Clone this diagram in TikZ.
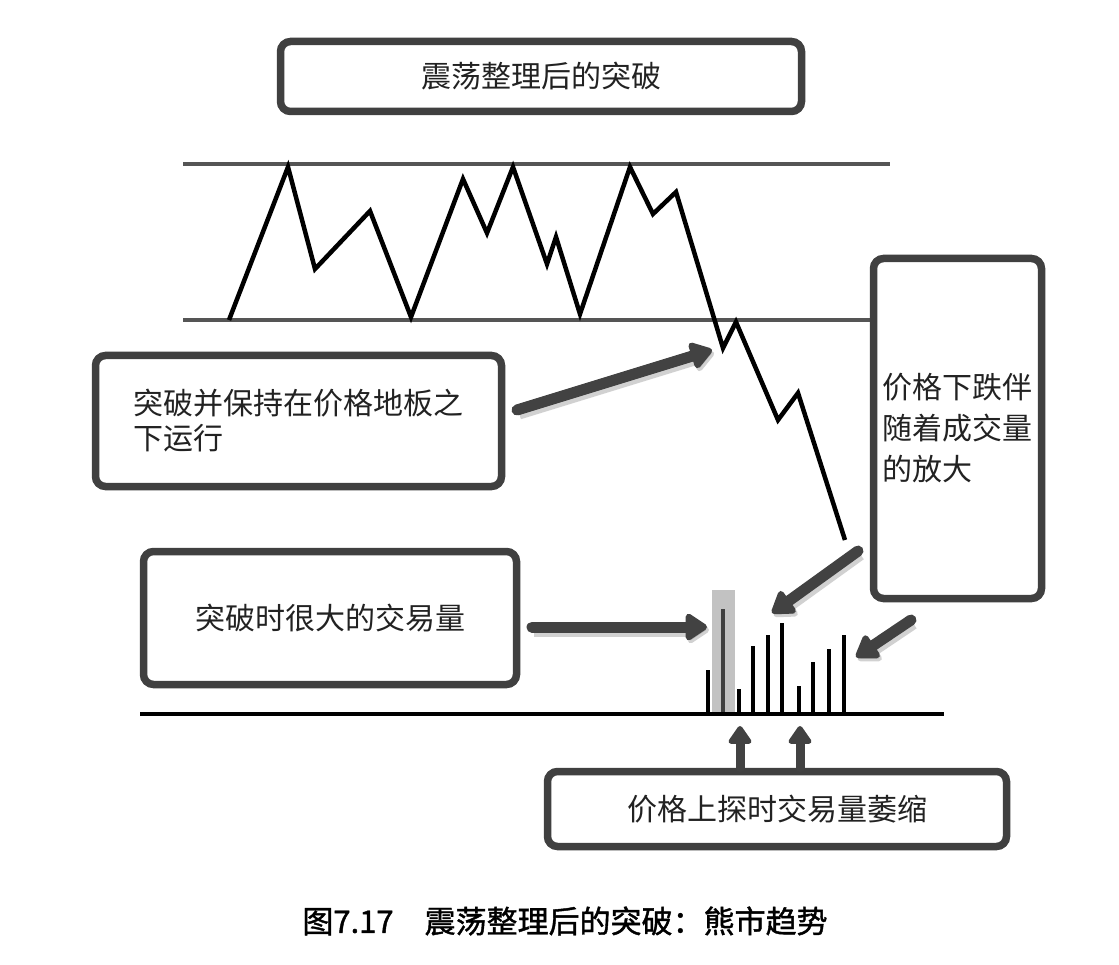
\documentclass[tikz,border=0pt]{standalone}
\usepackage{fontspec}
\setmainfont{Noto Sans CJK SC}
\newfontfamily\capfont{Noto Sans CJK SC}[FakeBold=1.3]
\usetikzlibrary{arrows.meta,shadows}
\definecolor{boxgray}{HTML}{404040}
\definecolor{arrgray}{HTML}{424242}
\definecolor{linegray}{HTML}{555555}
\definecolor{hlgray}{HTML}{C2C2C2}
\definecolor{txt}{HTML}{222222}
\begin{document}
\begin{tikzpicture}[x=1pt,y=-1pt,
  box/.style={draw=boxgray, line width=7.5pt, rounded corners=10pt, fill=white,
    inner sep=0pt, text=txt, font=\fontsize{30}{38}\selectfont,
    drop shadow={opacity=0.3, shadow xshift=2pt, shadow yshift=-3pt}},
  bigarrow/.style={draw=arrgray, line width=11pt, line cap=round,
    -{Triangle[length=24pt,width=30pt,round]},
    preaction={draw=black, opacity=0.18, line width=13pt,
      transform canvas={shift={(2pt,-3pt)}}}},
  uparrow/.style={draw=arrgray, line width=9pt, line cap=round,
    -{Triangle[length=20pt,width=26pt,round]}},
  chan/.style={draw=linegray, line width=3.5pt},
  price/.style={draw=black, line width=4.5pt, line join=miter},
  volbar/.style={draw=black, line width=4pt}
]
\useasboundingbox (0,0) rectangle (1119,965);
\fill[white] (0,0) rectangle (1119,965);

% channel lines
\coordinate (ctl) at (183,164);
\coordinate (ctr) at (890,164);
\coordinate (cbl) at (183,320);
\coordinate (cbr) at (876,320);
\draw[chan] (ctl) -- (ctr);
\draw[chan] (cbl) -- (cbr);

% price line
\draw[price] (229,320) -- (288,167) -- (315,269) -- (370,211) -- (411,317)
  -- (463,179) -- (487,233) -- (513,167) -- (547,264) -- (556,237)
  -- (580,314) -- (630,167) -- (653,214) -- (676,192) -- (723,348)
  -- (736,322) -- (778,420) -- (798,393) -- (845,540);

% boxes
\node[box, minimum width=521pt, minimum height=70pt] (b1) at (541,76.5) {震荡整理后的突破};
\node[box, minimum width=406pt, minimum height=131pt, align=left, font=\fontsize{30}{35}\selectfont] (b2) at (298.5,421)
  {突破并保持在价格地板之\\下运行};
\node[box, minimum width=168pt, minimum height=340pt, align=left, font=\fontsize{30}{41}\selectfont] (b3) at (957.5,428.5)
  {价格下跌伴\\随着成交量\\的放大};
\node[box, minimum width=373pt, minimum height=133pt] (b4) at (330,618) {突破时很大的交易量};
\node[box, minimum width=459pt, minimum height=75pt] (b5) at (777,809) {价格上探时交易量萎缩};

% volume
\fill[hlgray] (712,590) rectangle (735,714);
\draw[volbar, draw=boxgray] (723,714) -- (723,609);
\foreach \x/\t in {708/670, 739/689, 753/646, 768/635, 782/623, 799/686, 813/662, 829/649, 844/635}
  \draw[volbar] (\x,714) -- (\x,\t);
\coordinate (basel) at (140,714);
\coordinate (baser) at (944,714);
\draw[draw=black, line width=4pt] (basel) -- (baser);

% arrows
\coordinate (a1s) at (517,410);
\coordinate (a1e) at (712,350);
\coordinate (a2s) at (532,627);
\coordinate (a2e) at (707,627);
\coordinate (a3s) at (858,551);
\coordinate (a3e) at (772,613);
\coordinate (a4s) at (911,620);
\coordinate (a4e) at (856,657);
\draw[bigarrow] (a1s) -- (a1e);
\draw[bigarrow] (a2s) -- (a2e);
\draw[bigarrow] (a3s) -- (a3e);
\draw[bigarrow] (a4s) -- (a4e);

\coordinate (u1) at (740,726);
\coordinate (u2) at (800,726);
\draw[uparrow] (b5.north -| u1) -- (u1);
\draw[uparrow] (b5.north -| u2) -- (u2);

% caption
\node[font=\capfont\fontsize{31}{34}\selectfont, text=black] (cap) at (565,921)
  {图7.17\quad 震荡整理后的突破：熊市趋势};
\end{tikzpicture}
\end{document}
